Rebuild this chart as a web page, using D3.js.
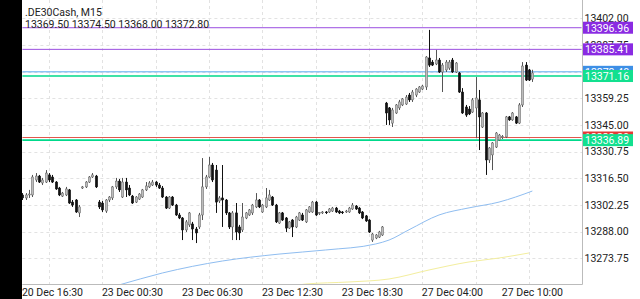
<!DOCTYPE html>
<html>
<head>
<meta charset="utf-8">
<script src="https://cdn.jsdelivr.net/npm/d3@7"></script>
<style>
  body { margin: 0; background: #fff; }
  text { font-family: Roboto, "Noto Sans", sans-serif; font-size: 10.5px; fill: #222; }
</style>
</head>
<body>
<script>
var W = 640, H = 299;
var plotLeft = 22.4, plotRight = 582, plotBottom = 284;

// candles, 20 Dec 16:30 .. 27 Dec 11:15, M15
var opens = [
  13307.6, 13306.0, 13307.6, 13307.6, 13315.6, 13317.7, 13314.0, 13314.5, 13318.3, 13317.2,
  13314.5, 13311.3, 13307.0, 13307.6, 13310.3, 13303.8, 13304.9, 13298.0, 13311.3, 13311.9,
  13314.5, 13317.2, 13317.7, 13303.8, 13303.3, 13299.0, 13304.9, 13306.0, 13311.9, 13315.0,
  13306.5, 13314.5, 13311.3, 13307.0, 13303.8, 13305.4, 13306.5, 13310.3, 13311.9, 13312.9,
  13314.5, 13312.9, 13311.3, 13306.5, 13300.6, 13306.5, 13302.2, 13296.9, 13295.3, 13288.9,
  13291.6, 13292.1, 13289.4, 13290.5, 13296.9, 13311.9, 13317.2, 13323.6, 13320.9, 13304.4,
  13306.0, 13304.9, 13298.0, 13290.5, 13298.0, 13290.5, 13288.9, 13295.3, 13296.9, 13298.0,
  13301.2, 13304.9, 13298.5, 13301.2, 13304.9, 13306.5, 13302.2, 13292.6, 13298.0, 13295.3,
  13289.9, 13294.2, 13290.5, 13294.2, 13296.9, 13293.2, 13298.5, 13298.5, 13303.8, 13298.0,
  13298.0, 13298.5, 13298.5, 13299.0, 13300.6, 13299.0, 13298.5, 13298.5, 13298.5, 13300.1,
  13301.7, 13300.6, 13298.5, 13296.4, 13294.2, 13283.5, 13284.6, 13285.1, 13286.2, 13356.7,
  13354.1, 13346.0, 13351.4, 13354.1, 13355.7, 13356.2, 13361.0, 13358.4, 13361.0, 13362.6,
  13364.2, 13365.3, 13380.8, 13378.6, 13377.6, 13379.7, 13373.3, 13374.4, 13375.4, 13379.7,
  13373.3, 13372.8, 13362.6, 13354.6, 13353.5, 13351.9, 13354.1, 13358.4, 13343.9, 13351.4,
  13326.3, 13329.0, 13333.2, 13337.0, 13338.6, 13338.6, 13349.3, 13347.7, 13349.3, 13346.0,
  13355.7, 13377.0, 13374.4, 13369.5
];
var highs = [
  13308.6, 13308.6, 13310.3, 13318.3, 13319.3, 13318.3, 13316.7, 13320.9, 13319.3, 13318.3,
  13315.0, 13311.9, 13309.2, 13311.9, 13310.8, 13304.9, 13305.4, 13302.2, 13312.4, 13315.0,
  13317.7, 13319.3, 13318.3, 13304.9, 13304.4, 13305.4, 13307.0, 13312.4, 13316.7, 13316.1,
  13316.7, 13316.7, 13312.9, 13307.6, 13307.0, 13308.6, 13310.8, 13314.5, 13315.0, 13315.6,
  13315.0, 13314.0, 13312.4, 13307.0, 13307.0, 13307.0, 13302.8, 13298.0, 13295.8, 13294.2,
  13298.5, 13293.2, 13290.5, 13298.0, 13327.3, 13318.3, 13327.9, 13324.7, 13323.6, 13307.0,
  13323.6, 13305.4, 13298.5, 13299.0, 13303.3, 13291.6, 13303.3, 13298.5, 13300.1, 13302.8,
  13308.6, 13305.4, 13302.8, 13311.3, 13310.3, 13307.0, 13302.8, 13298.5, 13298.5, 13295.8,
  13293.7, 13294.7, 13296.4, 13298.5, 13298.0, 13300.1, 13301.7, 13304.4, 13304.4, 13298.5,
  13299.0, 13299.0, 13300.6, 13301.2, 13301.2, 13299.6, 13299.0, 13299.6, 13301.2, 13303.3,
  13302.2, 13301.2, 13299.0, 13296.9, 13294.7, 13287.3, 13286.7, 13288.4, 13291.0, 13357.3,
  13354.6, 13354.1, 13356.2, 13358.4, 13359.4, 13361.0, 13362.1, 13363.7, 13364.7, 13365.8,
  13366.4, 13381.8, 13395.8, 13379.7, 13385.1, 13380.8, 13378.1, 13379.7, 13379.7, 13380.8,
  13378.6, 13373.3, 13364.7, 13355.7, 13355.1, 13359.4, 13370.6, 13363.7, 13351.9, 13351.9,
  13333.2, 13335.9, 13341.2, 13340.2, 13339.6, 13349.8, 13349.8, 13351.9, 13349.8, 13356.7,
  13378.6, 13378.6, 13374.9, 13374.5
];
var lows = [
  13304.9, 13304.9, 13306.0, 13306.5, 13314.5, 13314.0, 13312.9, 13314.0, 13314.5, 13314.0,
  13310.3, 13307.0, 13306.5, 13307.0, 13302.8, 13301.2, 13298.0, 13295.8, 13310.8, 13311.3,
  13314.0, 13316.7, 13311.3, 13300.1, 13298.5, 13298.0, 13303.8, 13304.9, 13310.8, 13309.2,
  13306.0, 13306.5, 13307.0, 13302.8, 13303.3, 13304.9, 13306.0, 13309.7, 13311.3, 13312.4,
  13311.9, 13310.8, 13306.0, 13300.1, 13300.1, 13301.7, 13296.4, 13294.7, 13283.5, 13287.8,
  13290.5, 13283.5, 13281.9, 13289.4, 13294.2, 13310.8, 13316.7, 13314.5, 13298.0, 13303.3,
  13290.5, 13296.9, 13289.4, 13283.5, 13283.5, 13283.5, 13287.8, 13294.7, 13296.4, 13296.9,
  13300.6, 13300.6, 13298.0, 13300.6, 13304.4, 13301.7, 13292.6, 13292.1, 13293.7, 13287.8,
  13289.4, 13285.1, 13289.9, 13293.7, 13293.7, 13292.6, 13298.0, 13298.0, 13296.4, 13296.9,
  13297.4, 13297.4, 13298.0, 13298.5, 13298.0, 13297.4, 13297.4, 13298.0, 13298.0, 13299.6,
  13299.6, 13297.4, 13294.7, 13293.2, 13287.3, 13282.5, 13284.0, 13284.6, 13285.7, 13345.0,
  13345.0, 13343.9, 13350.9, 13353.0, 13355.1, 13355.7, 13357.3, 13357.3, 13359.9, 13362.1,
  13363.7, 13363.7, 13376.0, 13376.5, 13377.0, 13372.8, 13362.6, 13373.3, 13374.4, 13372.8,
  13372.8, 13362.1, 13350.9, 13349.3, 13350.3, 13351.4, 13338.0, 13331.6, 13343.4, 13318.3,
  13324.7, 13320.9, 13332.7, 13336.5, 13337.5, 13338.0, 13347.2, 13347.2, 13345.5, 13345.5,
  13354.6, 13368.5, 13368.5, 13368.0
];
var closes = [
  13306.0, 13307.6, 13308.1, 13317.2, 13317.7, 13314.5, 13315.6, 13319.3, 13315.6, 13314.5,
  13310.8, 13307.6, 13308.6, 13310.8, 13303.3, 13302.2, 13298.5, 13301.2, 13311.9, 13314.5,
  13317.2, 13318.3, 13311.9, 13301.2, 13299.6, 13304.9, 13306.5, 13311.9, 13315.0, 13310.3,
  13314.5, 13310.3, 13307.6, 13303.3, 13306.5, 13308.1, 13310.3, 13312.4, 13314.0, 13314.5,
  13312.9, 13311.3, 13306.5, 13300.6, 13306.5, 13302.2, 13296.9, 13295.3, 13288.9, 13293.2,
  13298.0, 13289.4, 13287.3, 13296.9, 13311.9, 13317.2, 13323.6, 13315.6, 13303.8, 13306.0,
  13304.9, 13298.0, 13290.5, 13298.0, 13287.8, 13287.3, 13295.8, 13298.0, 13299.6, 13302.2,
  13304.9, 13301.2, 13302.2, 13306.0, 13307.6, 13302.2, 13293.2, 13298.0, 13294.2, 13289.9,
  13293.2, 13290.5, 13295.8, 13298.0, 13294.2, 13299.6, 13301.2, 13303.8, 13296.9, 13298.2,
  13298.5, 13298.3, 13300.1, 13300.6, 13298.5, 13298.0, 13298.3, 13299.0, 13300.6, 13302.2,
  13300.1, 13298.0, 13295.3, 13293.7, 13287.8, 13286.7, 13286.2, 13287.8, 13290.5, 13351.4,
  13347.7, 13353.0, 13355.7, 13357.3, 13358.9, 13359.9, 13358.4, 13362.6, 13364.2, 13365.3,
  13365.8, 13381.3, 13377.0, 13377.0, 13379.7, 13373.3, 13377.0, 13378.6, 13378.6, 13373.3,
  13378.1, 13362.6, 13351.4, 13350.3, 13350.9, 13358.4, 13359.4, 13349.3, 13351.4, 13326.3,
  13332.7, 13335.4, 13340.7, 13339.6, 13338.8, 13349.3, 13347.7, 13351.4, 13346.0, 13355.7,
  13376.5, 13369.0, 13369.0, 13372.8
];

// moving averages read at some candle positions
var blueMaIdx = [20, 29, 42, 60, 77, 91, 106, 110, 116, 125, 134, 143, 148, 153];
var blueMaVal = [13255.0, 13259.5, 13265.9, 13272.3, 13276.0, 13278.2, 13281.4, 13283.5, 13289.0, 13296.9, 13300.7, 13303.8, 13306.5, 13309.7];
var yellowMaIdx = [75, 85, 98, 110, 122, 134, 143, 152];
var yellowMaVal = [13257.0, 13260.0, 13261.1, 13262.7, 13267.5, 13271.8, 13273.9, 13276.6];

// horizontal levels
var levelVals = [13396.96, 13385.41, 13373.40, 13371.16, 13338.30, 13336.89];
var levelColors = ["#9a4de0", "#9a4de0", "#5aa9f0", "#00d98b", "#e2574c", "#00d98b"];
var levelBoxColors = ["#8a2be2", "#8a2be2", "#3d8fe6", "#12e08f", "#e53935", "#12e08f"];
var levelWidths = [1, 1, 1, 1.6, 1, 1.6];

var yTicks = [13402.00, 13387.75, 13373.50, 13359.25, 13345.00, 13330.75, 13316.50, 13302.25, 13288.00, 13273.75];
var timeIdx = [0, 24, 48, 72, 96, 120, 144];
var timeLabels = ["20 Dec 16:30", "23 Dec 00:30", "23 Dec 06:30", "23 Dec 12:30", "23 Dec 18:30", "27 Dec 04:00", "27 Dec 10:00"];

var x = d3.scaleLinear().domain([0, 168]).range([plotLeft, plotLeft + 168 * 3.333]);
var y = d3.scaleLinear().domain([13402, 13273.75]).range([18.3, 258.3]);

var svg = d3.select("body").append("svg").attr("width", W).attr("height", H);

svg.append("defs").append("clipPath").attr("id", "plot")
  .append("rect").attr("x", plotLeft - 0.4).attr("y", 0)
  .attr("width", plotRight - plotLeft).attr("height", plotBottom);

// grid
var grid = svg.append("g").attr("stroke", "#e2e2e2").attr("stroke-dasharray", "3,3");
grid.selectAll("line.h").data(yTicks).enter().append("line")
  .attr("x1", plotLeft).attr("x2", plotRight)
  .attr("y1", function(d) { return Math.round(y(d)) + 0.5; })
  .attr("y2", function(d) { return Math.round(y(d)) + 0.5; });
grid.selectAll("line.v").data(d3.range(8, 168, 16)).enter().append("line")
  .attr("x1", function(d) { return Math.round(x(d)) + 0.5; })
  .attr("x2", function(d) { return Math.round(x(d)) + 0.5; })
  .attr("y1", 0).attr("y2", plotBottom);

var plot = svg.append("g").attr("clip-path", "url(#plot)");

// moving averages
var maLine = d3.line()
  .x(function(d) { return x(d[0]); })
  .y(function(d) { return y(d[1]); })
  .curve(d3.curveMonotoneX);
plot.append("path").datum(d3.zip(blueMaIdx, blueMaVal))
  .attr("d", maLine).attr("fill", "none").attr("stroke", "#8fbdf0").attr("stroke-width", 1);
plot.append("path").datum(d3.zip(yellowMaIdx, yellowMaVal))
  .attr("d", maLine).attr("fill", "none").attr("stroke", "#f3ee9e").attr("stroke-width", 1);

// level lines
plot.selectAll("line.level").data(levelVals).enter().append("line")
  .attr("x1", plotLeft).attr("x2", plotRight)
  .attr("y1", function(d) { return y(d); }).attr("y2", function(d) { return y(d); })
  .attr("stroke", function(d, i) { return levelColors[i]; })
  .attr("stroke-width", function(d, i) { return levelWidths[i]; });

// candles
var idx = d3.range(opens.length);
var candles = plot.append("g").selectAll("g").data(idx).enter().append("g");
candles.append("line")
  .attr("x1", function(i) { return Math.round(x(i)) + 0.5; })
  .attr("x2", function(i) { return Math.round(x(i)) + 0.5; })
  .attr("y1", function(i) { return y(highs[i]); })
  .attr("y2", function(i) { return y(lows[i]); })
  .attr("stroke", function(i) { return closes[i] >= opens[i] ? "#555" : "#111"; })
  .attr("stroke-width", 1);
candles.append("rect")
  .attr("x", function(i) { return Math.round(x(i)) - 0.7; })
  .attr("width", 2.4)
  .attr("y", function(i) { return y(Math.max(opens[i], closes[i])); })
  .attr("height", function(i) { return Math.max(0.8, Math.abs(y(opens[i]) - y(closes[i]))); })
  .attr("fill", function(i) { return closes[i] >= opens[i] ? "#bdbdbd" : "#111"; })
  .attr("stroke", function(i) { return closes[i] >= opens[i] ? "#666" : "#111"; })
  .attr("stroke-width", 0.5);

// frame
svg.append("line").attr("x1", plotLeft).attr("x2", plotRight + 0.5)
  .attr("y1", plotBottom + 0.5).attr("y2", plotBottom + 0.5).attr("stroke", "#bbb");
svg.append("line").attr("x1", plotRight + 0.5).attr("x2", plotRight + 0.5)
  .attr("y1", 0).attr("y2", plotBottom + 0.5).attr("stroke", "#bbb");

// price axis
svg.append("g").selectAll("text").data(yTicks).enter().append("text")
  .attr("x", plotRight + 2.5).attr("y", function(d) { return y(d) + 3.8; })
  .text(function(d) { return d.toFixed(2); });

// level labels
var boxes = svg.append("g").selectAll("g").data(levelVals).enter().append("g")
  .attr("transform", function(d) { return "translate(" + (plotRight + 1) + "," + (y(d) - 6) + ")"; });
boxes.append("rect").attr("width", 50).attr("height", 12)
  .attr("fill", function(d, i) { return levelBoxColors[i]; });
boxes.append("text").attr("x", 2).attr("y", 9.8).style("fill", "#fff")
  .text(function(d) { return d.toFixed(2); });

// time axis
svg.append("g").selectAll("text").data(timeIdx).enter().append("text")
  .attr("x", function(d) { return x(d) - 0.5; }).attr("y", 295.5)
  .text(function(d, i) { return timeLabels[i]; });

// header
svg.append("text").attr("x", 25).attr("y", 16).text(".DE30Cash, M15");
svg.append("text").attr("x", 25).attr("y", 28).text("13369.50 13374.50 13368.00 13372.80");

// left black strip
svg.append("rect").attr("x", 0).attr("y", 0).attr("width", 22).attr("height", H).attr("fill", "#000");
</script>
</body>
</html>
